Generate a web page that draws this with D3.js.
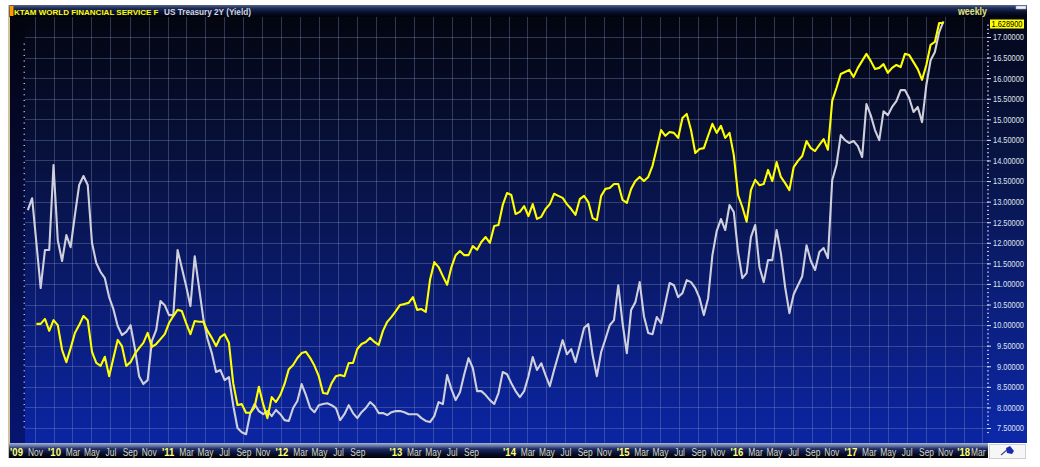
<!DOCTYPE html>
<html><head><meta charset="utf-8">
<script src="https://cdn.jsdelivr.net/npm/d3@7"></script>
<style>
html,body{margin:0;padding:0;background:#fff;overflow:hidden;}
svg{display:block;}
</style></head><body>
<svg id="chart" width="1040" height="467"></svg>
<script>
// ---------------- data ----------------
const firstDate = "2009-10-09";   // first weekly observation on the chart
const lastDate  = "2017-10-27";   // last weekly observation on the chart

// KTAM World Financial Service F (right axis)
const ktam = [
 null, null, 10.03, 10.03, 10.15, 9.86, 10.12, 10.00, 9.40, 9.10,
 9.44, 9.81, 10.00, 10.22, 10.12, 9.35, 9.08, 9.01, 9.23, 8.76,
 9.20, 9.64, 9.49, 9.01, 9.10, 9.30, 9.44, 9.57, 9.81, 9.47,
 9.54, 9.66, 9.78, 10.05, 10.22, 10.37, 10.34, 10.05, 9.78, 10.10,
 10.08, 10.08, 9.86, 9.69, 9.49, 9.71, 9.78, 9.57, 8.59, 8.06,
 8.08, 7.87, 7.87, 8.01, 8.50, 8.08, 7.74, 8.25, 8.13, 8.30,
 8.57, 8.93, 9.03, 9.20, 9.32, 9.35, 9.20, 9.01, 8.76, 8.35,
 8.33, 8.59, 8.76, 8.79, 8.76, 9.08, 9.08, 9.42, 9.54, 9.59,
 9.69, 9.59, 9.52, 9.86, 10.08, 10.20, 10.34, 10.49, 10.51, 10.54,
 10.68, 10.37, 10.39, 10.32, 11.10, 11.53, 11.41, 11.19, 10.98, 11.41,
 11.70, 11.80, 11.70, 11.70, 11.92, 11.83, 12.02, 12.14, 12.00, 12.41,
 12.43, 12.92, 13.21, 13.16, 12.70, 12.75, 12.89, 12.65, 12.94, 12.58,
 12.63, 12.82, 12.94, 13.19, 13.14, 13.09, 12.94, 12.82, 12.68, 13.06,
 13.14, 12.99, 12.60, 12.55, 13.14, 13.31, 13.33, 13.43, 13.43, 13.04,
 12.97, 13.31, 13.50, 13.60, 13.50, 13.60, 13.87, 14.30, 14.74, 14.60,
 14.69, 14.67, 14.55, 15.03, 15.13, 14.74, 14.18, 14.28, 14.30, 14.60,
 14.89, 14.67, 14.84, 14.55, 14.67, 14.13, 13.16, 12.87, 12.51, 13.28,
 13.53, 13.40, 13.43, 13.77, 13.50, 13.96, 13.60, 13.45, 13.28, 13.84,
 13.99, 14.11, 14.47, 14.30, 14.23, 14.38, 14.52, 14.26, 15.45, 15.76,
 16.10, 16.15, 16.20, 16.03, 16.25, 16.42, 16.59, 16.42, 16.22, 16.25,
 16.34, 16.13, 16.25, 16.32, 16.27, 16.59, 16.56, 16.39, 16.22, 15.96,
 16.32, 16.81, 16.88, 17.34, 17.34
];

// US Treasury 2Y yield, % (hidden left axis)
const ust2y = [
 0.959, 1.001, 0.842, 0.682, 0.817, 0.817, 1.119, 0.852, 0.778, 0.870,
 0.827, 0.941, 1.048, 1.080, 1.048, 0.842, 0.771, 0.739, 0.717, 0.650,
 0.607, 0.547, 0.515, 0.526, 0.550, 0.469, 0.369, 0.341, 0.355, 0.494,
 0.533, 0.636, 0.621, 0.586, 0.586, 0.817, 0.753, 0.689, 0.618, 0.795,
 0.685, 0.575, 0.501, 0.451, 0.384, 0.391, 0.355, 0.366, 0.266, 0.185,
 0.170, 0.163, 0.238, 0.270, 0.245, 0.234, 0.245, 0.227, 0.249, 0.234,
 0.213, 0.210, 0.256, 0.281, 0.341, 0.302, 0.256, 0.241, 0.266, 0.270,
 0.273, 0.266, 0.256, 0.213, 0.234, 0.266, 0.238, 0.220, 0.241, 0.256,
 0.277, 0.263, 0.238, 0.238, 0.231, 0.241, 0.245, 0.245, 0.241, 0.234,
 0.234, 0.234, 0.220, 0.210, 0.206, 0.227, 0.277, 0.270, 0.373, 0.323,
 0.284, 0.312, 0.376, 0.433, 0.398, 0.316, 0.316, 0.302, 0.284, 0.270,
 0.309, 0.384, 0.376, 0.344, 0.316, 0.295, 0.316, 0.369, 0.437, 0.391,
 0.415, 0.373, 0.334, 0.391, 0.444, 0.497, 0.447, 0.465, 0.419, 0.479,
 0.540, 0.554, 0.444, 0.369, 0.455, 0.501, 0.550, 0.568, 0.692, 0.557,
 0.451, 0.604, 0.632, 0.703, 0.582, 0.522, 0.518, 0.579, 0.557, 0.629,
 0.700, 0.692, 0.650, 0.664, 0.710, 0.703, 0.682, 0.646, 0.586, 0.646,
 0.799, 0.884, 0.927, 0.888, 0.977, 0.952, 0.810, 0.717, 0.735, 0.863,
 0.906, 0.756, 0.703, 0.781, 0.781, 0.888, 0.806, 0.685, 0.593, 0.660,
 0.692, 0.724, 0.834, 0.778, 0.746, 0.810, 0.824, 0.788, 1.065, 1.119,
 1.225, 1.207, 1.197, 1.204, 1.186, 1.147, 1.335, 1.296, 1.243, 1.207,
 1.310, 1.296, 1.325, 1.346, 1.385, 1.385, 1.356, 1.307, 1.325, 1.271,
 1.403, 1.491, 1.520, 1.591, 1.6289
];

// right axis ticks
const yTicks = [7.5, 8, 8.5, 9, 9.5, 10, 10.5, 11, 11.5, 12, 12.5, 13, 13.5, 14, 14.5, 15, 15.5, 16, 16.5, 17];

// time axis labels
const xTickDates = [
 "2009-09-01","2009-11-01",
 "2010-01-01","2010-03-01","2010-05-01","2010-07-01","2010-09-01","2010-11-01",
 "2011-01-01","2011-03-01","2011-05-01","2011-07-01","2011-09-01","2011-11-01",
 "2012-01-01","2012-03-01","2012-05-01","2012-07-01","2012-09-01",
 "2013-01-01","2013-03-01","2013-05-01","2013-07-01","2013-09-01",
 "2014-01-01","2014-03-01","2014-05-01","2014-07-01","2014-09-01","2014-11-01",
 "2015-01-01","2015-03-01","2015-05-01","2015-07-01","2015-09-01","2015-11-01",
 "2016-01-01","2016-03-01","2016-05-01","2016-07-01","2016-09-01","2016-11-01",
 "2017-01-01","2017-03-01","2017-05-01","2017-07-01","2017-09-01","2017-11-01",
 "2018-01-01","2018-03-01"
];
const xTickLabels = [
 "'09","Nov",
 "'10","Mar","May","Jul","Sep","Nov",
 "'11","Mar","May","Jul","Sep","Nov",
 "'12","Mar","May","Jul","Sep",
 "'13","Mar","May","Jul","Sep",
 "'14","Mar","May","Jul","Sep","Nov",
 "'15","Mar","May","Jul","Sep","Nov",
 "'16","Mar","May","Jul","Sep","Nov",
 "'17","Mar","May","Jul","Sep","Nov",
 "'18","Mar"
];

const titleMain = "KTAM WORLD FINANCIAL SERVICE F";
const titleSecond = "US Treasury 2Y (Yield)";
const freqLabel = "weekly";
const lastValueLabel = "1.628900";

// ---------------- drawing ----------------
const FONT = "'Liberation Sans',Arial,sans-serif";
const parse = d3.utcParse("%Y-%m-%d");
const t0 = parse(firstDate), t1 = parse(lastDate);
const N = ktam.length;
const dates = d3.range(N).map(i => new Date(+t0 + (t1 - t0) * i / (N - 1)));

const P = {l: 25, r: 987, t: 17, b: 443};
const x = d3.scaleUtc().domain([parse("2010-01-01"), parse("2018-01-01")]).range([54, 964]);
const yR = d3.scaleLinear().domain([7.5, 17]).range([428, 37]);
const yL = d3.scaleLinear().domain([0.185, 1.5735]).range([428, 37]);

const svg = d3.select("#chart");
const defs = svg.append("defs");
function grad(id, y1, y2, stops) {
  const g = defs.append("linearGradient").attr("id", id)
    .attr("gradientUnits", "userSpaceOnUse").attr("x1", 0).attr("x2", 0).attr("y1", y1).attr("y2", y2);
  stops.forEach(s => g.append("stop").attr("offset", s[0]).attr("stop-color", s[1]));
}
grad("bg", P.t, P.b, [[0, "#03050f"], [0.3, "#071038"], [0.65, "#0a1b70"], [1, "#0b25a4"]]);
grad("panel", P.t, P.b, [[0, "#04071a"], [0.3, "#08133f"], [0.65, "#0b1e78"], [1, "#0c28a8"]]);
grad("leftStrip", P.t, P.b, [[0, "#02040e"], [0.5, "#050c40"], [1, "#061570"]]);
grad("titleBar", 5, 17, [[0, "#56668f"], [0.25, "#202e58"], [0.6, "#081030"], [1, "#000006"]]);
grad("axisBar", 443, 458, [[0, "#a8b4d2"], [0.18, "#6a7aa6"], [0.4, "#1c2a62"], [0.75, "#070c2c"], [1, "#000000"]]);
defs.append("clipPath").attr("id", "clip").append("rect")
  .attr("x", P.l).attr("y", P.t).attr("width", P.r - P.l).attr("height", P.b - P.t);

// frame
svg.append("rect").attr("x", 9).attr("y", 5).attr("width", 1018).attr("height", 12).attr("fill", "url(#titleBar)");
svg.append("rect").attr("x", 10).attr("y", P.t).attr("width", P.r - 10).attr("height", P.b - P.t).attr("fill", "url(#bg)");
svg.append("rect").attr("x", P.r).attr("y", P.t).attr("width", 1027 - P.r).attr("height", P.b - P.t).attr("fill", "url(#panel)");
svg.append("rect").attr("x", 10).attr("y", P.t).attr("width", P.l - 10).attr("height", P.b - P.t).attr("fill", "url(#leftStrip)");
svg.append("line").attr("x1", 9).attr("x2", 9).attr("y1", 5).attr("y2", 458).attr("stroke", "#b89a5c").attr("stroke-width", 1.2);
svg.append("rect").attr("x", 10).attr("y", 6).attr("width", 3.5).attr("height", 10).attr("fill", "#ff9a00");
svg.append("rect").attr("x", 1016).attr("y", 6).attr("width", 10).attr("height", 3).attr("fill", "#f4f4f4").attr("stroke", "#9aa4c0").attr("stroke-width", 0.6);

// title
svg.append("text").attr("x", 14).attr("y", 15)
  .attr("font-family", FONT).attr("font-size", 8).attr("font-weight", "bold").attr("fill", "#ffff00")
  .text(titleMain);
svg.append("text").attr("x", 164).attr("y", 15)
  .attr("font-family", FONT).attr("font-size", 8.2).attr("font-weight", "bold").attr("fill", "#d4d6e0")
  .text(titleSecond);
svg.append("text").attr("x", 958).attr("y", 15)
  .attr("font-family", FONT).attr("font-size", 10).attr("font-weight", "bold").attr("fill", "#e2e27a")
  .attr("textLength", 29).attr("lengthAdjust", "spacingAndGlyphs").text(freqLabel);

// grid
const grid = svg.append("g").attr("clip-path", "url(#clip)");
const gridDates = d3.utcMonth.every(2).range(parse("2009-09-01"), parse("2018-05-02"));
grid.selectAll("line.v").data(gridDates).join("line").attr("class", "v")
  .attr("x1", d => Math.round(x(d)) + 0.5).attr("x2", d => Math.round(x(d)) + 0.5)
  .attr("y1", P.t).attr("y2", P.b).attr("stroke", "#8290c0").attr("stroke-opacity", 0.36).attr("stroke-width", 1);
grid.selectAll("line.h").data(yTicks).join("line").attr("class", "h")
  .attr("x1", P.l).attr("x2", P.r)
  .attr("y1", d => Math.round(yR(d)) + 0.5).attr("y2", d => Math.round(yR(d)) + 0.5)
  .attr("stroke", "#8290c0").attr("stroke-opacity", 0.36).attr("stroke-width", 1);

// hidden left axis (tick dots only)
const leftTicks = d3.range(0.19, 1.57, 0.02);
svg.append("g").attr("transform", `translate(${P.l},0)`)
  .call(d3.axisLeft(yL).tickValues(leftTicks).tickSize(1.5).tickFormat(""))
  .call(g => g.select(".domain").remove())
  .call(g => g.selectAll("line").attr("stroke", "#b8c4ff").attr("stroke-width", 1));

// series
const pts = dates.map((d, i) => ({d, k: ktam[i], u: ust2y[i]}));
const series = svg.append("g").attr("clip-path", "url(#clip)");
series.append("path").datum(pts)
  .attr("fill", "none").attr("stroke", "#cfd0dc").attr("stroke-width", 2.1).attr("stroke-linejoin", "round")
  .attr("d", d3.line().defined(p => p.u != null).x(p => x(p.d)).y(p => yL(p.u)));
svg.append("path").datum(pts)
  .attr("fill", "none").attr("stroke", "#ffff00").attr("stroke-width", 2.1).attr("stroke-linejoin", "round")
  .attr("d", d3.line().defined(p => p.k != null).x(p => x(p.d)).y(p => yR(p.k)));

// right axis
const minor = d3.range(7.4, 17.35, 0.1);
svg.append("g").attr("transform", `translate(${P.r},0)`)
  .call(d3.axisRight(yR).tickValues(minor).tickSize(2).tickFormat(""))
  .call(g => g.select(".domain").remove())
  .call(g => g.selectAll("line").attr("stroke", "#c8d0f0").attr("stroke-width", 1));
const rax = svg.append("g").attr("transform", `translate(${P.r},0)`)
  .call(d3.axisRight(yR).tickValues(yTicks).tickSize(4).tickFormat(d3.format(".5f")));
rax.select(".domain").remove();
rax.selectAll("line").attr("stroke", "#d8dcf0");
rax.selectAll("text").attr("x", 37).attr("text-anchor", "end").attr("fill", "#dfe2ee")
  .attr("font-family", FONT).attr("font-size", 9)
  .attr("textLength", d => d >= 10 ? 31 : 27).attr("lengthAdjust", "spacingAndGlyphs");

// last value label
const lastY = Math.max(yL(ust2y[N - 1]) + 2.5, 24);
svg.append("rect").attr("x", 990).attr("y", lastY - 4.5).attr("width", 34).attr("height", 9).attr("fill", "#ffff00");
svg.append("text").attr("x", 1007).attr("y", lastY + 3.3).attr("text-anchor", "middle")
  .attr("font-family", FONT).attr("font-size", 9).attr("fill", "#000")
  .attr("textLength", 31).attr("lengthAdjust", "spacingAndGlyphs").text(lastValueLabel);

// bottom time axis
svg.append("rect").attr("x", 9).attr("y", 443).attr("width", 979).attr("height", 15).attr("fill", "url(#axisBar)");
const bax = svg.append("g").attr("transform", "translate(0,443)")
  .call(d3.axisBottom(x).tickValues(xTickDates.map(parse)).tickSize(0).tickPadding(2)
    .tickFormat((d, i) => xTickLabels[i]));
bax.select(".domain").remove();
const isYear = i => xTickLabels[i].startsWith("'");
const labels = bax.selectAll("text")
  .attr("y", 12.5).attr("dy", 0)
  .attr("font-family", FONT).attr("font-size", 10)
  .attr("font-weight", (d, i) => isYear(i) ? "bold" : "normal")
  .attr("fill", (d, i) => isYear(i) ? "#ffff70" : "#d6d8bc");
// condense the labels and keep the last ones inside the bar, as the terminal does
const nodes = labels.nodes();
nodes.forEach((n, i) => {
  const w = n.getComputedTextLength() * (isYear(i) ? 0.95 : 0.84);
  d3.select(n).attr("textLength", w).attr("lengthAdjust", "spacingAndGlyphs");
  n.__w = w;
});
let limit = 985;
for (let i = nodes.length - 1; i >= 0; i--) {
  const cx = x(parse(xTickDates[i]));
  const w = nodes[i].__w;
  const shift = Math.min(0, limit - (cx + w / 2));
  d3.select(nodes[i]).attr("x", shift);
  limit = cx + shift - w / 2 - 1;
  if (shift === 0 && i < nodes.length - 3) break;
}

// small icon cell bottom-right
svg.append("rect").attr("x", 989.5).attr("y", 444.5).attr("width", 36).attr("height", 14).attr("fill", "#f6f6f6").attr("stroke", "#cfcfcf");
svg.append("path").attr("d", "M1001,455 L1008,449").attr("stroke", "#3a4aa0").attr("stroke-width", 1.2);
svg.append("path").attr("d", "M1006,448 L1010,446 L1014,451 L1012,454 L1007,453 Z").attr("fill", "#1a2ab0");
</script>
</body></html>
